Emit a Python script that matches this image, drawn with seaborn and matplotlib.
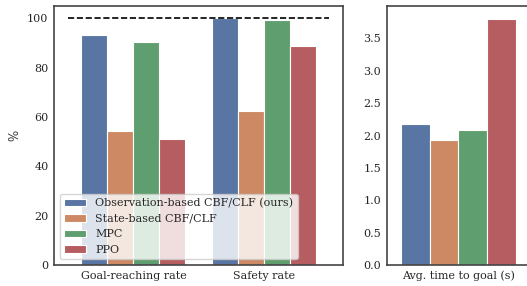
import numpy as np
import pandas as pd
import matplotlib
matplotlib.use("Agg")
import matplotlib.pyplot as plt
import seaborn as sns

methods = ["Observation-based CBF/CLF (ours)", "State-based CBF/CLF", "MPC", "PPO"]
rate_metrics = ["Goal-reaching rate", "Safety rate"]
goal_rate = [93.3, 54.5, 90.3, 51.1]
safety_rate = [100.0, 62.5, 99.5, 88.6]
time_metric = ["Avg. time to goal (s)"]
avg_time = [2.18, 1.93, 2.09, 3.80]

sns.set_theme(style="white", palette="deep")
plt.rcParams["font.family"] = ["DejaVu Serif"]
fs = 8.0
plt.rcParams.update({"font.size": fs, "xtick.labelsize": fs, "ytick.labelsize": fs,
                     "axes.labelsize": fs + 0.5, "legend.fontsize": fs})

rates = pd.DataFrame({
    "metric": [rate_metrics[0]] * 4 + [rate_metrics[1]] * 4,
    "method": methods * 2,
    "value": goal_rate + safety_rate,
})
times = pd.DataFrame({"metric": time_metric * 4, "method": methods, "value": avg_time})

fig = plt.figure(figsize=(5.27, 2.86), dpi=100)
ax1 = fig.add_axes([54 / 527, 21 / 286, 289 / 527, 259 / 286])
ax2 = fig.add_axes([386.7 / 527, 21 / 286, 143.3 / 527, 259 / 286])

sns.barplot(data=rates, x="metric", y="value", hue="method", ax=ax1,
            edgecolor="white", linewidth=0.8)
ax1.hlines(100, -0.5, 1.5, colors="black", linestyles="--", linewidth=1.2)
ax1.set_xlim(-0.61, 1.61)
ax1.set_ylim(0, 105)
ax1.set_yticks([0, 20, 40, 60, 80, 100])
ax1.set_xlabel("")
ax1.set_ylabel("%")
ax1.legend(loc="lower left", framealpha=0.8, borderaxespad=0.5,
           handlelength=2.0, handleheight=0.7)

sns.barplot(data=times, x="metric", y="value", hue="method", ax=ax2,
            edgecolor="white", linewidth=0.8, legend=False)
ax2.set_xlim(-0.5, 0.5)
ax2.set_ylim(0, 4.0)
ax2.set_yticks(np.arange(0, 4.0, 0.5))
ax2.set_xlabel("")
ax2.set_ylabel("")

for ax in (ax1, ax2):
    for s in ax.spines.values():
        s.set_color("#444444")
        s.set_linewidth(1.2)
    ax.tick_params(axis="both", length=0, pad=4)

fig.savefig("out.png", dpi=100)
